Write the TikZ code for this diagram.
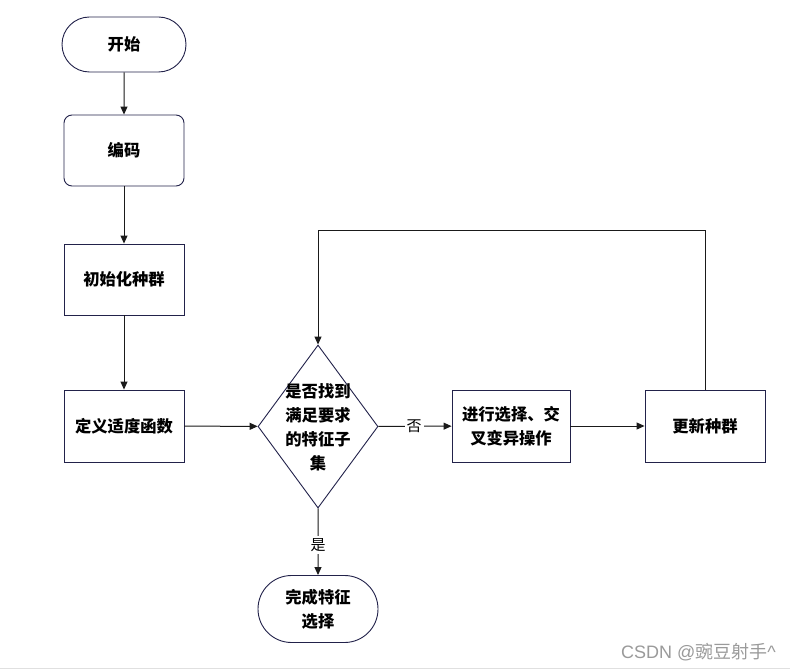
\documentclass[tikz,border=0pt]{standalone}
\usepackage{fontspec}
\setmainfont{Noto Sans CJK SC}
\newfontfamily\wmfont{Liberation Sans}
\usetikzlibrary{shapes.geometric,shapes.misc,arrows.meta}
\definecolor{bd}{HTML}{22224A}
\definecolor{ln}{HTML}{1A1A1A}
\definecolor{wm}{HTML}{9A9A9A}
\tikzset{
  txt/.style={font=\fontsize{16.3}{24}\selectfont\bfseries, align=center, text=black},
  term/.style={txt, draw=bd, line width=0.9pt, rounded rectangle, inner sep=0pt},
  proc/.style={txt, draw=bd, line width=0.9pt, rectangle, inner sep=0pt, minimum width=120pt, minimum height=72pt},
  dec/.style={draw=bd, line width=0.9pt, diamond, inner sep=0pt, minimum width=120pt, minimum height=163pt},
  arr/.style={draw=ln, line width=1pt, -{Triangle[length=8pt,width=7pt]}},
  lbl/.style={font=\fontsize{15}{16}\selectfont, fill=white, inner sep=2pt, text=black}
}
\begin{document}
\begin{tikzpicture}[x=1pt,y=-1pt]
\useasboundingbox (0,0) rectangle (790,671);
\fill[white] (0,0) rectangle (790,671);
\draw[line width=0.8pt, draw=black!12] (0,668.5) -- (790,668.5);

\node[term, minimum width=124pt, minimum height=55pt] (start) at (124,44.5) {开始};
\node[proc, rounded corners=8pt, minimum height=71pt] (enc) at (124,150.5) {编码};
\node[proc, minimum height=71pt] (init) at (124,279.5) {初始化种群};
\node[proc] (fit) at (124,426) {定义适度函数};
\node[dec] (dia) at (318,426.5) {};
\node[txt] (diatext) at (318,427) {是否找到\\满足要求\\的特征子\\集};
\node[proc, minimum width=118pt] (op) at (511,426) {进行选择、交\\叉变异操作};
\node[proc] (upd) at (705,426) {更新种群};
\node[term, minimum width=120pt, minimum height=67pt] (fin) at (318,609) {完成特征\\选择};
\coordinate (looptop) at (318,230.5);

\draw[arr] (start) -- (enc);
\draw[arr] (enc) -- (init);
\draw[arr] (init) -- (fit);
\draw[arr] (fit) -- (dia);
\draw[arr] (dia) -- node[lbl, pos=0.49] (no) {否} (op);
\draw[arr] (op) -- (upd);
\draw[arr] (upd.north) |- (looptop) -- (dia.north);
\draw[arr] (dia) -- node[lbl, pos=0.55] (yes) {是} (fin);

\node[font=\fontsize{18}{20}\selectfont, text=wm, anchor=east, inner sep=0pt] (wmark) at (776,652) {{\wmfont CSDN @}豌豆射手{\wmfont\textasciicircum}};
\end{tikzpicture}
\end{document}
